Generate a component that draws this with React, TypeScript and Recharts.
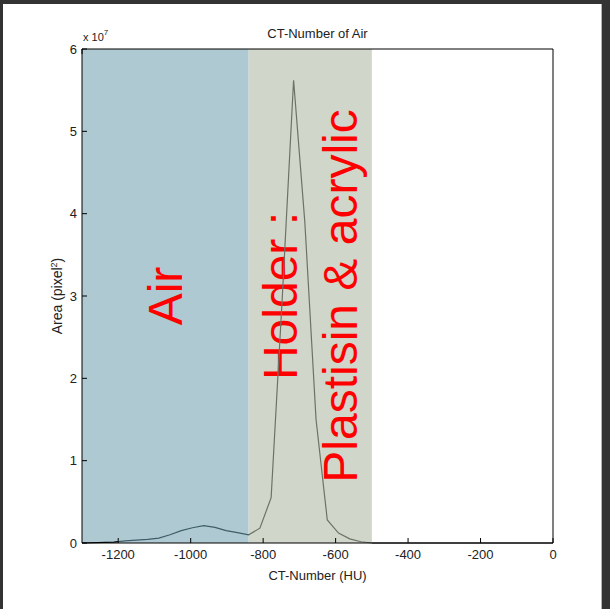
import { ComposedChart, Line, XAxis, YAxis, ReferenceArea, Label } from "recharts";

// histogram of CT numbers (HU), area in units of 10^7 pixel^2
const ctNumber = [
  -1300, -1212, -1181, -1150, -1119, -1088, -1057, -1026, -995, -964, -933, -902, -871,
  -840, -809, -778, -747, -716, -685, -654, -623, -592, -561, -530, -499, 0,
];
const areaE7 = [
  0, 0.01, 0.025, 0.035, 0.045, 0.06, 0.1, 0.15, 0.185, 0.21, 0.19, 0.15, 0.125,
  0.1, 0.18, 0.55, 3.0, 5.62, 3.9, 1.5, 0.28, 0.12, 0.05, 0.015, 0, 0,
];
const xTicks = [-1200, -1000, -800, -600, -400, -200, 0];
const yTicks = [0, 1, 2, 3, 4, 5, 6];
const airRange = [-1300, -840];
const holderRange = [-840, -500];
const airText = ["Air"];
const holderText = ["Holder :", "Plastisin & acrylic"];

const data = ctNumber.map((x, i) => ({ x, area: areaE7[i] }));

const axisFont = "'Liberation Sans', Arial, sans-serif";
const blank = () => "";

function RegionText(props: any) {
  const { viewBox, lines } = props;
  const cx = viewBox.x + viewBox.width / 2;
  const cy = viewBox.y + viewBox.height / 2;
  const gap = 60;
  return (
    <text
      transform={`rotate(-90 ${cx} ${cy})`}
      textAnchor="middle"
      fill="#ff0000"
      fontSize={48}
      fontFamily="'Liberation Sans', Arial, sans-serif"
    >
      {lines.map((t: string, i: number) => (
        <tspan key={i} x={cx} y={cy + 17 + (i - (lines.length - 1) / 2) * gap}>
          {t}
        </tspan>
      ))}
    </text>
  );
}

export default function App() {
  return (
    <div style={{ position: "absolute", left: 0, top: 0, width: 610, height: 609, background: "#333" }}>
      <div
        style={{
          position: "absolute",
          left: 3,
          top: 4,
          width: 598,
          height: 605,
          background: "#fff",
          borderRight: "1px solid #b4b4b4",
        }}
      />
      <div style={{ position: "absolute", left: 0, top: 0 }}>
        <ComposedChart width={610} height={609} data={data} margin={{ top: 48, right: 56, bottom: 36, left: 52 }}>
          <defs>
            <linearGradient id="lineTint" x1="0" y1="0" x2="1" y2="0">
              <stop offset="0.077" stopColor="#000" />
              <stop offset="0.077" stopColor="#3f5d66" />
              <stop offset="0.354" stopColor="#3f5d66" />
              <stop offset="0.354" stopColor="#6c7366" />
              <stop offset="0.615" stopColor="#6c7366" />
              <stop offset="0.615" stopColor="#000" />
            </linearGradient>
          </defs>
          <ReferenceArea
            x1={airRange[0]}
            x2={airRange[1]}
            fill="#aec9d1"
            fillOpacity={1}
            stroke="none"
            label={(p: any) => <RegionText {...p} lines={airText} />}
          />
          <ReferenceArea
            x1={holderRange[0]}
            x2={holderRange[1]}
            fill="#d0d6c9"
            fillOpacity={1}
            stroke="none"
            label={(p: any) => <RegionText {...p} lines={holderText} />}
          />
          <XAxis
            dataKey="x"
            type="number"
            domain={[-1300, 0]}
            ticks={xTicks}
            allowDataOverflow
            height={30}
            stroke="#000"
            tickSize={-5}
            tickMargin={12}
            tick={{ fill: "#222", fontSize: 13, fontFamily: axisFont }}
          >
            <Label
              content={(p: any) => (
                <text
                  x={p.viewBox.x + p.viewBox.width / 2}
                  y={580}
                  textAnchor="middle"
                  fill="#222"
                  fontSize={13}
                  fontFamily={axisFont}
                >
                  CT-Number (HU)
                </text>
              )}
            />
          </XAxis>
          <XAxis
            xAxisId="top"
            orientation="top"
            type="number"
            domain={[-1300, 0]}
            ticks={xTicks}
            height={1}
            stroke="#000"
            tickSize={-5}
            tickFormatter={blank}
          >
            <Label
              content={(p: any) => (
                <text
                  x={p.viewBox.x + p.viewBox.width / 2}
                  y={38}
                  textAnchor="middle"
                  fill="#222"
                  fontSize={13}
                  fontFamily={axisFont}
                >
                  CT-Number of Air
                </text>
              )}
            />
          </XAxis>
          <YAxis
            type="number"
            domain={[0, 6]}
            ticks={yTicks}
            width={30}
            stroke="#000"
            tickSize={-5}
            tickMargin={10}
            tick={{ fill: "#222", fontSize: 13, fontFamily: axisFont }}
          >
            <Label
              content={(p: any) => (
                <g fill="#222" fontFamily={axisFont}>
                  <text x={p.viewBox.x + 31} y={41} fontSize={11}>
                    x 10
                    <tspan dy={-6} fontSize={8}>
                      7
                    </tspan>
                  </text>
                  <text
                    transform={`rotate(-90 ${p.viewBox.x + 10} ${p.viewBox.y + p.viewBox.height / 2})`}
                    x={p.viewBox.x + 10}
                    y={p.viewBox.y + p.viewBox.height / 2}
                    textAnchor="middle"
                    fontSize={14}
                  >
                    Area (pixel
                    <tspan dy={-5} fontSize={9}>
                      2
                    </tspan>
                    <tspan dy={5}>)</tspan>
                  </text>
                </g>
              )}
            />
          </YAxis>
          <YAxis
            yAxisId="right"
            orientation="right"
            type="number"
            domain={[0, 6]}
            ticks={yTicks}
            width={1}
            stroke="#000"
            tickSize={-5}
            tickFormatter={blank}
          />
          <Line
            type="linear"
            dataKey="area"
            stroke="url(#lineTint)"
            strokeWidth={1.2}
            dot={false}
            activeDot={false}
            isAnimationActive={false}
          />
        </ComposedChart>
      </div>
    </div>
  );
}
